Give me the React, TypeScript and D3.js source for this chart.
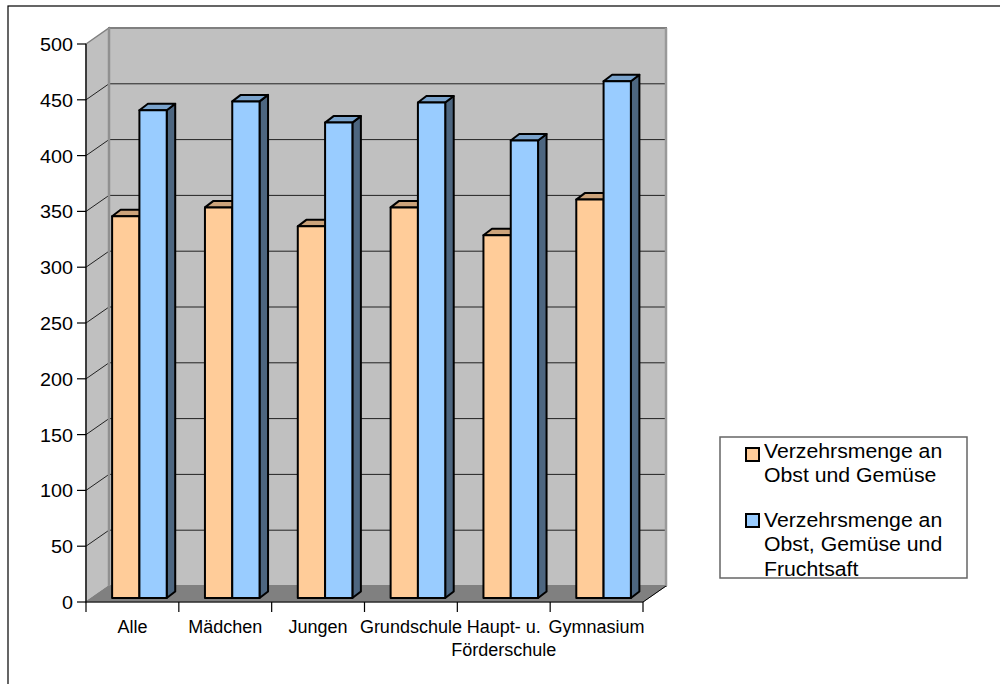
import React from "react";
import * as d3 from "d3";

const categories = ["Alle", "Mädchen", "Jungen", "Grundschule", "Haupt- u. Förderschule", "Gymnasium"];
const categoryLines = [["Alle"], ["Mädchen"], ["Jungen"], ["Grundschule"], ["Haupt- u.", "Förderschule"], ["Gymnasium"]];
const obstGemuese = [342, 350, 333, 350, 325, 357];
const obstGemueseSaft = [437, 445, 426, 444, 410, 463];
const yTicks = [0, 50, 100, 150, 200, 250, 300, 350, 400, 450, 500];
const seriesLegend = [
  ["Verzehrsmenge an", "Obst und Gemüse"],
  ["Verzehrsmenge an", "Obst, Gemüse und", "Fruchtsaft"],
];

const seriesColors = [
  { front: "#FFCC99", top: "#CCA37A", side: "#806650" },
  { front: "#99CCFF", top: "#7AA3CC", side: "#4D6680" },
];

export default function App() {
  const x0 = 86, x1 = 643;
  const yScale = d3.scaleLinear().domain([0, 500]).range([602, 44]);
  const xBand = d3.scaleBand<string>().domain(categories).range([x0, x1]).padding(0);
  const depthX = 23, depthY = -16;
  const barOffX = 7, barOffY = -4;
  const barDX = 8.5, barDY = -6.5;
  const bw = 27.3;
  const font = "'Liberation Sans', Arial, sans-serif";
  const sx = 1.1;

  const floor = yScale(0);
  const top = yScale(500);

  const series = [obstGemuese, obstGemueseSaft];

  return (
    <svg width={1000} height={684} style={{ position: "absolute", left: 0, top: 0 }} fontFamily={font}>
      <rect x={0} y={0} width={1000} height={684} fill="#fff" />
      <rect x={8} y={6} width={1200} height={900} fill="none" stroke="#000" strokeWidth={1.2} />
      {/* left wall */}
      <polygon
        points={`${x0},${top} ${x0 + depthX},${top + depthY} ${x0 + depthX},${floor + depthY} ${x0},${floor}`}
        fill="#C0C0C0" stroke="#808080" strokeWidth={1.5}
      />
      {/* back wall */}
      <rect x={x0 + depthX} y={top + depthY} width={x1 - x0} height={floor - top}
        fill="#C0C0C0" stroke="#808080" strokeWidth={2} />
      {/* floor */}
      <polygon
        points={`${x0},${floor} ${x0 + depthX},${floor + depthY} ${x1 + depthX},${floor + depthY} ${x1},${floor}`}
        fill="#808080" stroke="#808080" strokeWidth={1}
      />
      {/* gridlines */}
      {yTicks.filter((t) => t > 0 && t < 500).map((t) => (
        <g key={t}>
          <line x1={x0} y1={yScale(t)} x2={x0 + depthX} y2={yScale(t) + depthY} stroke="#222" strokeWidth={1} />
          <line x1={x0 + depthX} y1={yScale(t) + depthY} x2={x1 + depthX} y2={yScale(t) + depthY} stroke="#222" strokeWidth={1} />
        </g>
      ))}
      <line x1={x0 + depthX} y1={top + depthY} x2={x0 + depthX} y2={floor + depthY} stroke="#909090" strokeWidth={2.5} />
      <line x1={x1 + depthX} y1={top + depthY} x2={x1 + depthX} y2={floor + depthY} stroke="#999" strokeWidth={2.5} />
      {/* bars */}
      {categories.map((c, i) => {
        const cx = (xBand(c) as number) + xBand.bandwidth() / 2 + barOffX;
        const yb = floor + barOffY;
        return (
          <g key={c}>
            {series.map((vals, s) => {
              const bx0 = cx - bw + s * bw;
              const bx1 = bx0 + bw;
              const yt = yScale(vals[i]) + barOffY;
              const col = seriesColors[s];
              return (
                <g key={s} stroke="#000" strokeWidth={2} strokeLinejoin="round">
                  <polygon points={`${bx1},${yt} ${bx1 + barDX},${yt + barDY} ${bx1 + barDX},${yb + barDY} ${bx1},${yb}`} fill={col.side} />
                  <polygon points={`${bx0},${yt} ${bx0 + barDX},${yt + barDY} ${bx1 + barDX},${yt + barDY} ${bx1},${yt}`} fill={col.top} />
                  <rect x={bx0} y={yt} width={bw} height={yb - yt} fill={col.front} />
                </g>
              );
            })}
          </g>
        );
      })}
      {/* axes */}
      <line x1={x0} y1={top} x2={x0} y2={floor} stroke="#000" strokeWidth={1.2} />
      <line x1={x0} y1={floor} x2={x1} y2={floor} stroke="#000" strokeWidth={1.2} />
      <line x1={x1} y1={floor} x2={x1 + depthX} y2={floor + depthY} stroke="#000" strokeWidth={1} />
      {yTicks.map((t) => (
        <g key={t}>
          <line x1={x0 - 9} y1={yScale(t)} x2={x0} y2={yScale(t)} stroke="#000" strokeWidth={1.2} />
          <text transform={`translate(73,${yScale(t) + 7}) scale(${sx},1)`} textAnchor="end" fontSize={18} fill="#000">{t}</text>
        </g>
      ))}
      {[...categories.map((c) => xBand(c) as number), x1].map((xv, i) => (
        <line key={i} x1={xv} y1={floor} x2={xv} y2={floor + 10} stroke="#000" strokeWidth={1.2} />
      ))}
      {categories.map((c, i) => {
        const cx = (xBand(c) as number) + xBand.bandwidth() / 2;
        return categoryLines[i].map((ln, j) => (
          <text key={c + j} x={cx} y={633 + j * 23} textAnchor="middle" fontSize={18} fill="#000">{ln}</text>
        ));
      })}
      {/* legend */}
      <rect x={720} y={437} width={247} height={141} fill="#fff" stroke="#666" strokeWidth={1.5} />
      {seriesLegend.map((lines, s) => (
        <g key={s}>
          <rect x={746} y={448 + s * 66} width={13} height={13} fill={seriesColors[s].front} stroke="#000" strokeWidth={2} />
          {lines.map((ln, j) => (
            <text key={j} transform={`translate(764,${458 + s * 69 + j * 24.4}) scale(1.09,1)`} fontSize={19.5} fill="#000">{ln}</text>
          ))}
        </g>
      ))}
    </svg>
  );
}
